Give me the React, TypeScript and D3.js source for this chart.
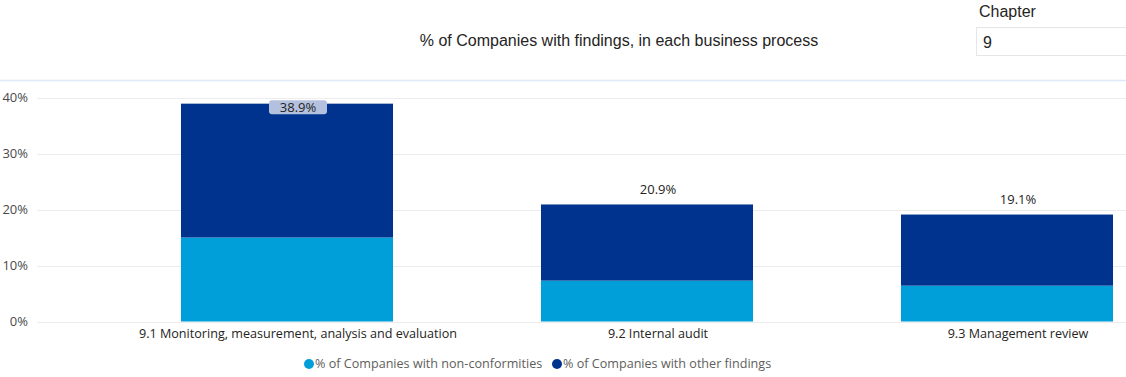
import React from "react";
import * as d3 from "d3";

const categories = [
  "9.1 Monitoring, measurement, analysis and evaluation",
  "9.2 Internal audit",
  "9.3 Management review",
];
const nonConformities = [15.0, 7.3, 6.4];
const otherFindings = [23.9, 13.6, 12.7];
const totals = [38.9, 20.9, 19.1];
const yTicks = [0, 10, 20, 30, 40];
const seriesNames = ["% of Companies with non-conformities", "% of Companies with other findings"];
const seriesColors = ["#009FDA", "#00338D"];
const titleText = "% of Companies with findings, in each business process";
const slicerLabel = "Chapter";
const slicerValue = "9";

const W = 1126;
const H = 377;

export default function App() {
  const x = d3
    .scaleBand<string>()
    .domain(categories)
    .range([107, 1187])
    .paddingInner(0.411)
    .paddingOuter(0.2055);
  const y = d3.scaleLinear().domain([0, 40]).range([321.5, 97.5]);
  const plotTop = 92;
  const labelShift = 11;
  const uiFont = "'Open Sans', 'Noto Sans', sans-serif";

  const rows = categories.map((c, i) => ({ c, a: nonConformities[i], b: otherFindings[i], t: totals[i] }));
  const stack = d3.stack<any>().keys(["a", "b"])(rows as any);

  return (
    <svg width={W} height={H} style={{ position: "absolute", left: 0, top: 0, background: "#fff" }}>
      {/* title */}
      <text x={619} y={46} textAnchor="middle" fontFamily="'Liberation Sans', Arial, sans-serif" fontSize={16} fill="#252423">
        {titleText}
      </text>
      {/* slicer */}
      <text x={979} y={17} fontFamily="'Liberation Sans', Arial, sans-serif" fontSize={16} fill="#252423">
        {slicerLabel}
      </text>
      <rect x={976.5} y={27.5} width={160} height={28} fill="#fff" stroke="#e6e6e6" />
      <text x={983} y={48} fontFamily="'Liberation Sans', Arial, sans-serif" fontSize={16} fill="#252423">
        {slicerValue}
      </text>
      {/* separator */}
      <line x1={0} x2={W} y1={80.5} y2={80.5} stroke="#dcebf7" strokeWidth={1.5} />
      {/* grid + y ticks */}
      {yTicks.map((t) => (
        <g key={t}>
          <line x1={37} x2={W} y1={Math.round(y(t)) + 0.5} y2={Math.round(y(t)) + 0.5} stroke="#ececec" />
          <text x={28} y={y(t)} dy="0.35em" textAnchor="end" fontFamily={uiFont} fontSize={13} fill="#4a4a4a">
            {t}%
          </text>
        </g>
      ))}
      {/* bars */}
      {stack.map((s, si) => (
        <g key={si} fill={seriesColors[si]}>
          {s.map((d, i) => (
            <rect
              key={i}
              x={x(categories[i])!}
              width={x.bandwidth()}
              y={y(d[1])}
              height={y(d[0]) - y(d[1])}
            />
          ))}
        </g>
      ))}
      {/* total labels */}
      {rows.map((r, i) => {
        const cx = x(r.c)! + x.bandwidth() / 2 + labelShift;
        const top = y(r.t);
        const outsideY = top - 15;
        const inside = outsideY < plotTop;
        const ly = inside ? top + 3.5 : outsideY;
        const label = `${r.t.toFixed(1)}%`;
        return (
          <g key={i}>
            {inside && <rect x={cx - 29} y={ly - 7} width={58} height={14} rx={3} fill="#b4c1de" />}
            <text x={cx} y={ly} dy="0.35em" textAnchor="middle" fontFamily={uiFont} fontSize={13} fill="#252423">
              {label}
            </text>
          </g>
        );
      })}
      {/* category labels */}
      {categories.map((c) => (
        <text key={c} x={x(c)! + x.bandwidth() / 2 + labelShift} y={334} dy="0.35em" textAnchor="middle" fontFamily={uiFont} fontSize={12.6} fill="#252423">
          {c}
        </text>
      ))}
      {/* legend */}
      {seriesNames.map((n, i) => {
        const lx = [309, 557][i];
        return (
          <g key={n}>
            <circle cx={lx} cy={364} r={5} fill={seriesColors[i]} />
            <text x={lx + 6} y={364} dy="0.35em" fontFamily={uiFont} fontSize={12.6} fill="#605e5c">
              {n}
            </text>
          </g>
        );
      })}
    </svg>
  );
}
